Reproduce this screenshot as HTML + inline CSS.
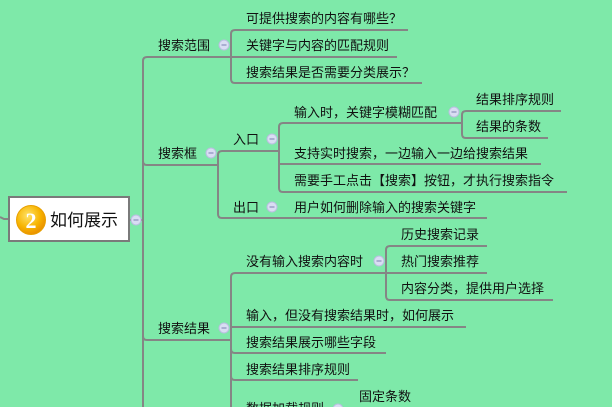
<!DOCTYPE html>
<html><head><meta charset="utf-8"><style>
html,body{margin:0;padding:0;background:#7ee9a9;}
svg{display:block}
text{font-family:"Noto Sans CJK SC","Liberation Sans",sans-serif;font-size:13px;fill:#111;}
</style></head><body>
<svg width="612" height="407" viewBox="0 0 612 407" xmlns="http://www.w3.org/2000/svg">
<rect width="612" height="407" fill="#7ee9a9"/>
<g fill="none" stroke="#858585" stroke-width="2">
<path d="M0 217 L4 219 L8 219"/>
<path d="M130 220 L143 220"/>
<path d="M231 57 L147 57 Q143 57 143 61 L143 407"/>
<path d="M143 161 Q143 165 147 165 L218 165"/>
<path d="M143 336 Q143 340 147 340 L231 340"/>
<path d="M408 30 L235 30 Q231 30 231 34 L231 79 Q231 83 235 83 L422 83"/>
<path d="M231 57 L397 57"/>
<path d="M279 151 L222 151 Q218 151 218 155 L218 214 Q218 218 222 218 L487 218"/>
<path d="M462 123 L283 123 Q279 123 279 127 L279 188 Q279 192 283 192 L567 192"/>
<path d="M279 164 L541 164"/>
<path d="M561 111 L466 111 Q462 111 462 115 L462 134 Q462 138 466 138 L548 138"/>
<path d="M386 273 L235 273 Q231 273 231 277 L231 407"/>
<path d="M231 327 L466 327"/>
<path d="M231 349 Q231 353 235 353 L386 353"/>
<path d="M231 376 Q231 380 235 380 L358 380"/>
<path d="M487 246 L390 246 Q386 246 386 250 L386 296 Q386 300 390 300 L553 300"/>
<path d="M386 273 L487 273"/>
</g>
<rect x="9" y="197" width="120" height="44" fill="#fff" stroke="#7a7a7a" stroke-width="2"/>
<defs><radialGradient id="g" cx="0.4" cy="0.35" r="0.7"><stop offset="0" stop-color="#ffe36a"/><stop offset="0.6" stop-color="#f7b400"/><stop offset="1" stop-color="#e88a00"/></radialGradient></defs>
<circle cx="31" cy="220" r="14.5" fill="url(#g)" stroke="#e8a000" stroke-width="1"/>
<text x="31" y="228" text-anchor="middle" style="font-size:22px;font-weight:bold;fill:#fff;font-family:'Liberation Serif',serif">2</text>
<text x="50" y="226" style="font-size:17px">如何展示</text>
<g fill="#d9ddf3" stroke="#b8bedf" stroke-width="1">
<circle cx="136" cy="220" r="5"/><circle cx="224" cy="45" r="5"/><circle cx="211" cy="153" r="5"/>
<circle cx="272" cy="139" r="5"/><circle cx="272" cy="207" r="5"/><circle cx="454" cy="112" r="5"/>
<circle cx="379" cy="261" r="5"/><circle cx="224" cy="328" r="5"/><circle cx="338" cy="409" r="5"/>
</g>
<g stroke="#7a80b0" stroke-width="1">
<path d="M133.5 220h5M221.5 45h5M208.5 153h5M269.5 139h5M269.5 207h5M451.5 112h5M376.5 261h5M221.5 328h5M335.5 409h5"/>
</g>
<text x="158" y="50">搜索范围</text>
<text x="246" y="23">可提供搜索的内容有哪些？</text>
<text x="246" y="50">关键字与内容的匹配规则</text>
<text x="246" y="77">搜索结果是否需要分类展示？</text>
<text x="158" y="158">搜索框</text>
<text x="233" y="144">入口</text>
<text x="233" y="212">出口</text>
<text x="294" y="117">输入时，关键字模糊匹配</text>
<text x="476" y="104">结果排序规则</text>
<text x="476" y="131">结果的条数</text>
<text x="294" y="158">支持实时搜索，一边输入一边给搜索结果</text>
<text x="294" y="185">需要手工点击【搜索】按钮，才执行搜索指令</text>
<text x="294" y="212">用户如何删除输入的搜索关键字</text>
<text x="158" y="333">搜索结果</text>
<text x="246" y="266">没有输入搜索内容时</text>
<text x="401" y="239">历史搜索记录</text>
<text x="401" y="266">热门搜索推荐</text>
<text x="401" y="293">内容分类，提供用户选择</text>
<text x="246" y="320">输入，但没有搜索结果时，如何展示</text>
<text x="246" y="347">搜索结果展示哪些字段</text>
<text x="246" y="374">搜索结果排序规则</text>
<text x="246" y="413">数据加载规则</text>
<text x="359" y="401">固定条数</text>
</svg>
</body></html>
